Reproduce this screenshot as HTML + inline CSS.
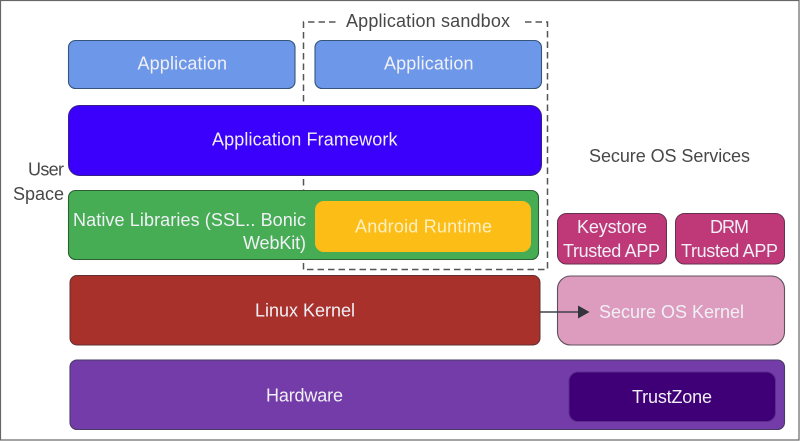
<!DOCTYPE html>
<html><head><meta charset="utf-8"><style>
html,body{margin:0;padding:0;background:#fff;width:800px;height:441px;overflow:hidden}
svg{display:block}
text{font-family:"Liberation Sans",sans-serif;font-size:18px}
.w{fill:#f0f0f6}.d{fill:#484848}
</style></head><body>
<svg width="800" height="441" viewBox="0 0 800 441" xmlns="http://www.w3.org/2000/svg">
<rect x="0.5" y="0.5" width="798.5" height="439.5" fill="#fff" stroke="#666" stroke-width="1.2"/>
<path d="M303.5 269.5V22H337M525 22H547.5V269.5H303.5" fill="none" stroke="#555" stroke-width="1.5" stroke-dasharray="6.5 4"/>
<rect x="68.5" y="40.5" width="226.5" height="48" rx="7" fill="#6d97e8" stroke="#35557c" stroke-width="1.1"/>
<rect x="315" y="40.5" width="226.5" height="48" rx="7" fill="#6d97e8" stroke="#35557c" stroke-width="1.1"/>
<rect x="68.5" y="105.5" width="473" height="70" rx="11" fill="#3a00fb" stroke="#35208a" stroke-width="1"/>
<rect x="68.5" y="190.5" width="470" height="69" rx="7" fill="#47ad54" stroke="#2c5f35" stroke-width="1.1"/>
<rect x="315" y="201" width="216" height="51" rx="9" fill="#fdbd17"/>
<rect x="557.5" y="213.5" width="109" height="50.5" rx="9" fill="#bf3878" stroke="#66304f" stroke-width="1"/>
<rect x="675.5" y="213.5" width="109" height="50.5" rx="9" fill="#bf3878" stroke="#66304f" stroke-width="1"/>
<rect x="70" y="275.5" width="470" height="69.5" rx="7" fill="#a8312c" stroke="#5f3030" stroke-width="1"/>
<rect x="557.5" y="276" width="227" height="69" rx="13" fill="#dd9cbd" stroke="#5f505e" stroke-width="1.1"/>
<rect x="70" y="360" width="714.5" height="69.5" rx="7" fill="#733ca8" stroke="#4a3a66" stroke-width="1.1"/>
<rect x="569" y="372" width="206.5" height="49.5" rx="9" fill="#3f0077" stroke="#5a2c8c" stroke-width="1"/>
<path d="M540 312H579" stroke="#40404a" stroke-width="1.4"/>
<path d="M578 305.5L589.5 312L578 318.5Z" fill="#33333c"/>
<text class="w" x="137.5" y="69.5" textLength="89.5">Application</text>
<text class="w" x="384" y="69.5" textLength="89.5">Application</text>
<text class="w" x="212" y="145.5" textLength="185.5">Application Framework</text>
<text class="d" x="346" y="27" textLength="164">Application sandbox</text>
<text class="d" x="28" y="175.5" textLength="36">User</text>
<text class="d" x="13" y="200" textLength="51">Space</text>
<text class="w" x="73" y="226" textLength="233">Native Libraries (SSL.. Bonic</text>
<text class="w" x="243" y="249" textLength="63">WebKit)</text>
<text fill="#fdf0c0" x="355" y="232.5" textLength="137">Android Runtime</text>
<text class="d" x="589" y="162" textLength="161">Secure OS Services</text>
<text class="w" x="577" y="233" textLength="70">Keystore</text>
<text class="w" x="710" y="233" textLength="39">DRM</text>
<text class="w" x="563" y="257" textLength="97">Trusted APP</text>
<text class="w" x="681" y="257" textLength="97">Trusted APP</text>
<text class="w" x="255" y="316.5" textLength="100">Linux Kernel</text>
<text class="w" x="599" y="318" textLength="145">Secure OS Kernel</text>
<text class="w" x="266" y="401.5" textLength="77">Hardware</text>
<text class="w" x="632" y="403" textLength="80">TrustZone</text>
</svg>
</body></html>
